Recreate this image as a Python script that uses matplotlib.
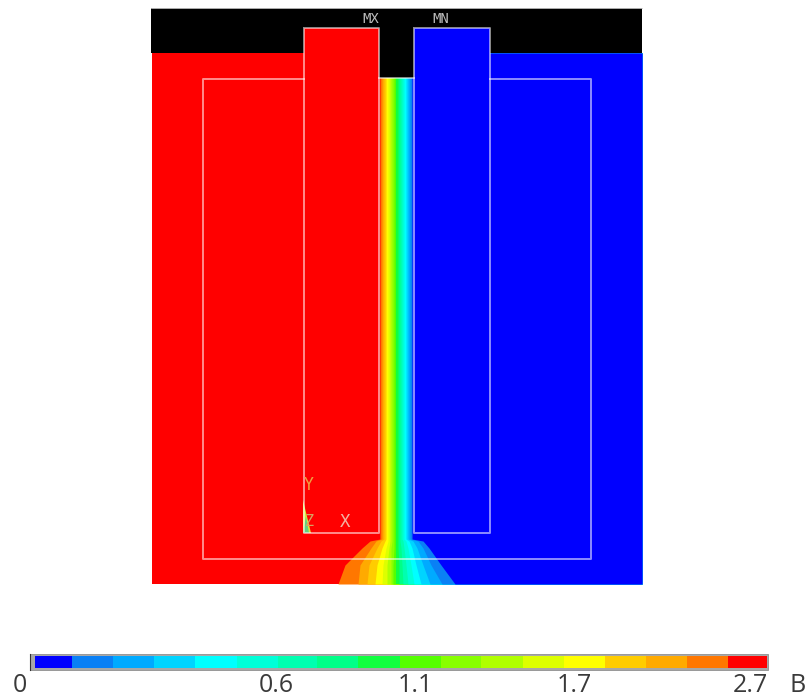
import matplotlib
matplotlib.use("Agg")
import matplotlib.pyplot as plt
from matplotlib.patches import Rectangle

# contour colours, low to high
band_colors = ['#0000FF', '#0A80F5', '#00AAFF', '#00D4FF', '#00FFFF', '#00FFD8',
               '#00FFB0', '#00FF88', '#10FF40', '#55FF00', '#88FF00', '#B0FF00',
               '#DDFF00', '#FFFF00', '#FFCC00', '#FFAA00', '#FF7700', '#FF0000']
bar_edges = [35, 72, 113, 154, 195, 237, 278, 317, 358, 400, 441, 481, 523, 564,
             605, 646, 687, 728, 767]
tick_labels = ['0', '0.6', '1.1', '1.7', '2.7']
tick_x = [20, 276, 415, 574, 750]
unit_label = 'B'

# field: x of each contour boundary (red side to blue side) at each row
row_y = [53, 539, 541, 548, 565, 584]
boundaries = [
    [380, 382, 384, 386, 388, 390, 392, 394, 396, 398, 400, 402, 404, 406, 408, 410, 412],
    [380, 382, 384, 386, 388, 390, 392, 394, 396, 398, 400, 402, 404, 406, 408, 410, 412],
    [370, 376, 381, 385, 388, 390, 392, 394, 396, 398, 400, 403, 406, 409, 413, 418, 423],
    [362, 371, 377, 382, 386, 389, 391, 394, 396, 398, 401, 404, 408, 412, 417, 423, 429],
    [345, 360, 369, 377, 383, 387, 391, 393, 396, 399, 402, 406, 411, 416, 423, 431, 441],
    [338, 358, 367, 375, 382, 387, 391, 393, 396, 399, 403, 408, 414, 421, 430, 442, 455],
]

# geometry outlines
left_block = (304, 379, 28, 533)
right_block = (414, 490, 28, 533)
outer_rect = (203, 591, 79, 559)
line_col = (1, 1, 1, 0.55)

fig = plt.figure(figsize=(8.1, 6.99), dpi=100)
ax = fig.add_axes([0, 0, 1, 1])
ax.set_xlim(0, 810)
ax.set_ylim(699, 0)
ax.axis('off')

# contour field, each band painted up to the right edge
ax.add_patch(Rectangle((152, 53), 490, 531, color='#FF0000', lw=0))
n = len(boundaries[0])
for i in range(n):
    xs = [row[i] for row in boundaries]
    ax.fill_betweenx(row_y, xs, 642, color=band_colors[-2 - i], lw=0)

# black area above the model
ax.add_patch(Rectangle((151, 8), 491, 45, color='black', lw=0))
ax.add_patch(Rectangle((379, 8), 35, 70, color='black', lw=0))
ax.add_patch(Rectangle((304, 28), 75, 30, color='#FF0000', lw=0))
ax.add_patch(Rectangle((414, 28), 76, 30, color='#0000FF', lw=0))
ax.plot([151, 642], [8, 8], color='#CCCCCC', lw=0.6)

# white geometry lines
x0, x1, y0, y1 = left_block
ax.plot([x0, x0, x1, x1, x0], [y0, y1, y1, y0, y0], color=line_col, lw=1.4)
x0, x1, y0, y1 = right_block
ax.plot([x0, x0, x1, x1, x0], [y0, y1, y1, y0, y0], color=line_col, lw=1.4)
x0, x1, y0, y1 = outer_rect
ax.plot([304, x0, x0, x1, x1, 490], [y0, y0, y1, y1, y0, y0], color=line_col, lw=1.4)
ax.plot([379, 414], [78, 78], color=line_col, lw=1.4)

# triad
ax.fill([303, 311, 303], [533, 533, 500], color='#D8E83A', lw=0)
ax.fill([303, 309, 306], [533, 533, 516], color='#60D080', lw=0)
ax.text(309, 485, 'Y', color='#F0A040', family='DejaVu Sans Mono', fontsize=12, ha='center', va='center')
ax.text(309, 521, 'Z', color='#D8A060', family='DejaVu Sans Mono', fontsize=11, ha='center', va='center')
ax.text(345, 522, 'X', color='#F4B0A0', family='DejaVu Sans Mono', fontsize=12.5, ha='center', va='center')
ax.text(371, 19, 'MX', color='#BBBBBB', family='DejaVu Sans Mono', fontsize=10, ha='center', va='center')
ax.text(441, 19, 'MN', color='#BBBBBB', family='DejaVu Sans Mono', fontsize=10, ha='center', va='center')

# legend bar
ax.add_patch(Rectangle((30, 654), 738, 16, facecolor='#A8A8A8', edgecolor='#909090', lw=0.6))
ax.plot([30, 30], [654, 670], color='#333333', lw=0.8)
for i in range(len(band_colors)):
    ax.barh(662, bar_edges[i + 1] - bar_edges[i], height=12.5, left=bar_edges[i],
            color=band_colors[i], lw=0)
for x, lab in zip(tick_x, tick_labels):
    ax.text(x, 686, lab, fontsize=18, family='Open Sans', color='#3A3A3A', ha='center', va='center')
ax.text(798, 686, unit_label, fontsize=18, family='Open Sans', color='#3A3A3A', ha='center', va='center')

fig.savefig('out.png', dpi=100)
